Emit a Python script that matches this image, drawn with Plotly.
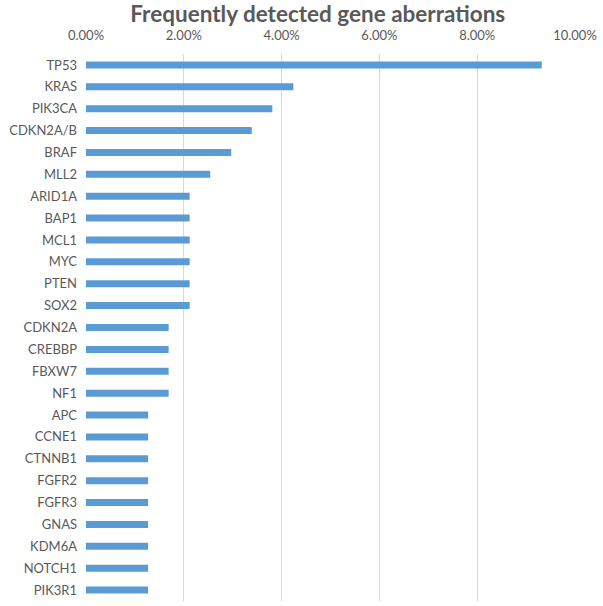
import plotly.graph_objects as go

genes = ["TP53", "KRAS", "PIK3CA", "CDKN2A/B", "BRAF", "MLL2", "ARID1A", "BAP1", "MCL1",
         "MYC", "PTEN", "SOX2", "CDKN2A", "CREBBP", "FBXW7", "NF1", "APC", "CCNE1",
         "CTNNB1", "FGFR2", "FGFR3", "GNAS", "KDM6A", "NOTCH1", "PIK3R1"]
freq = [0.0932, 0.0424, 0.0381, 0.0339, 0.0297, 0.0254, 0.0212, 0.0212, 0.0212,
        0.0212, 0.0212, 0.0212, 0.0169, 0.0169, 0.0169, 0.0169, 0.0127, 0.0127,
        0.0127, 0.0127, 0.0127, 0.0127, 0.0127, 0.0127, 0.0127]
x_ticks = [0, 0.02, 0.04, 0.06, 0.08, 0.10]
title = "Frequently detected gene aberrations"

fig = go.Figure(go.Bar(
    y=genes, x=freq, orientation="h",
    marker=dict(color="#5b9bd5", line=dict(width=0)),
    width=0.32,
))

fig.update_layout(
    width=603, height=606,
    margin=dict(l=86, r=28, t=54, b=5),
    paper_bgcolor="white", plot_bgcolor="white",
    font=dict(family="Lato, Open Sans, sans-serif", color="#595959", size=13),
    title=dict(text="<b>" + title + "</b>", x=0.474, xanchor="center",
               xref="paper", y=0.976, yanchor="middle", font=dict(size=22.5, color="#595959")),
    showlegend=False,
    xaxis=dict(side="top", range=[0, 0.10], tickvals=x_ticks, tickformat=".2%",
               showgrid=True, gridcolor="#d9d9d9", gridwidth=1, zeroline=False,
               showline=False, ticks="", automargin=False, ticklabelstandoff=10,
               tickfont=dict(size=13, color="#595959")),
    yaxis=dict(autorange="reversed", showgrid=False, zeroline=False, showline=False,
               ticks="", automargin=False, ticklabelstandoff=8,
               tickfont=dict(size=13, color="#595959")),
)

fig.write_html("out.html", config={"displayModeBar": False},
               post_script="document.body.style.margin='0';document.body.style.overflow='hidden';")
